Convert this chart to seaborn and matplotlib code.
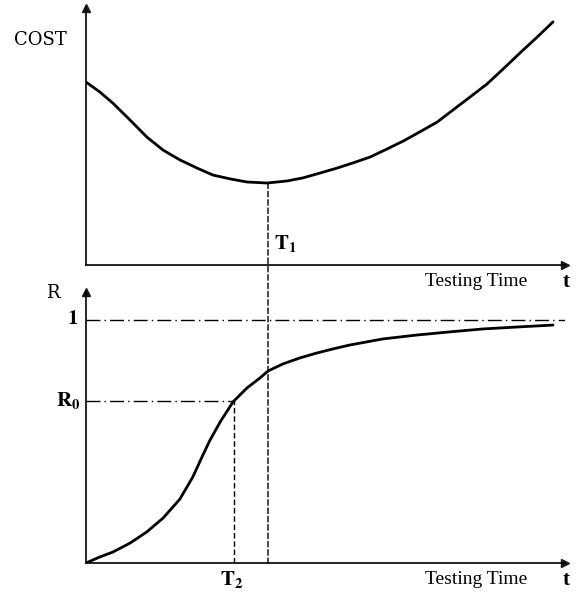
import numpy as np
import pandas as pd
import seaborn as sns
import matplotlib.pyplot as plt
from matplotlib.patches import ConnectionPatch

# cost curve (top panel)
cost_t = [0.0, 0.29, 0.56, 0.92, 1.27, 1.61, 1.96, 2.32, 2.65, 3.01, 3.36, 3.78, 4.20, 4.53,
          4.89, 5.24, 5.57, 5.93, 6.28, 6.62, 6.97, 7.33, 7.66, 8.02, 8.37, 8.71, 9.06, 9.42, 9.75]
cost_v = [7.12, 6.73, 6.30, 5.64, 4.98, 4.47, 4.09, 3.77, 3.50, 3.35, 3.23, 3.19, 3.27, 3.39,
          3.58, 3.77, 3.97, 4.20, 4.51, 4.82, 5.18, 5.56, 6.03, 6.54, 7.04, 7.63, 8.25, 8.87, 9.46]

# reliability curve (bottom panel)
rel_t = [0.0, 0.29, 0.56, 0.92, 1.27, 1.61, 1.96, 2.23, 2.44, 2.59, 2.80, 3.07, 3.36, 3.63,
         3.80, 4.11, 4.47, 4.82, 5.16, 5.51, 6.20, 6.91, 7.60, 8.29, 9.00, 9.75]
rel_v = [0.0, 0.025, 0.045, 0.082, 0.128, 0.185, 0.263, 0.354, 0.444, 0.506, 0.580, 0.663, 0.720, 0.761,
         0.790, 0.819, 0.844, 0.864, 0.881, 0.897, 0.922, 0.938, 0.951, 0.963, 0.971, 0.979]

T1 = 3.80
COST_MIN = 3.19
T2 = 3.09
R0 = 0.668
R_MAX = 1.0

sns.set_theme(style="white")
plt.rcParams['font.family'] = ['Liberation Serif', 'DejaVu Serif']
plt.rcParams['mathtext.fontset'] = 'stix'
plt.rcParams['text.color'] = 'black'

fig = plt.figure(figsize=(5.78, 5.92), dpi=100)
W, H = 578, 592
ax1 = fig.add_axes([86 / W, 1 - 265 / H, 479 / W, 257 / H])
ax2 = fig.add_axes([86 / W, 1 - 563 / H, 479 / W, 271 / H])

df_cost = pd.DataFrame({'t': cost_t, 'cost': cost_v})
df_rel = pd.DataFrame({'t': rel_t, 'R': rel_v})

sns.lineplot(data=df_cost, x='t', y='cost', ax=ax1, color='black', linewidth=2, sort=False)
sns.lineplot(data=df_rel, x='t', y='R', ax=ax2, color='black', linewidth=2, sort=False)

ax1.set_xlim(0, 10)
ax1.set_ylim(0, 10)
ax2.set_xlim(0, 10)
ax2.set_ylim(0, 1.115)

for ax in (ax1, ax2):
    ax.set_xlabel("")
    ax.set_ylabel("")
    ax.set_xticks([])
    ax.set_yticks([])
    ax.spines['top'].set_visible(False)
    ax.spines['right'].set_visible(False)
    for s in ('left', 'bottom'):
        ax.spines[s].set_color('black')
        ax.spines[s].set_linewidth(1.2)
    ax.patch.set_alpha(0)
    # arrow heads
    ax.plot(1, 0, '>k', transform=ax.transAxes, clip_on=False, markersize=6)
    ax.plot(0, 1, '^k', transform=ax.transAxes, clip_on=False, markersize=6)
    ax.annotate("Testing Time", xy=(0.921, 0), xycoords='axes fraction', xytext=(0, -17),
                textcoords='offset pixels', fontsize=14, ha='right', va='center')
    ax.annotate("t", xy=(1, 0), xycoords='axes fraction', xytext=(1, -17),
                textcoords='offset pixels', fontsize=15, fontweight='bold', ha='center', va='center')

# dashed lines
dash = (0, (4, 2))
dashdot = (0, (10, 3, 1, 3))
ax2.plot([0, 10], [R_MAX, R_MAX], color='black', lw=1, linestyle=dashdot)
ax2.plot([0, T2], [R0, R0], color='black', lw=1, linestyle=dashdot)
ax2.plot([T2, T2], [0, R0], color='black', lw=1, linestyle=dash)
con = ConnectionPatch(xyA=(T1, COST_MIN), coordsA=ax1.transData,
                      xyB=(T1, 0), coordsB=ax2.transData,
                      color='black', lw=1, linestyle=dash)
fig.add_artist(con)

# labels
fig.text(14 / W, 1 - 40 / H, "COST", fontsize=13, family='DejaVu Serif', va='center', ha='left')
fig.text(53 / W, 1 - 293 / H, "R", fontsize=13, family='DejaVu Serif', va='center', ha='center')
ax2.annotate(r"$\mathbf{1}$", xy=(0, R_MAX), xycoords=('axes fraction', 'data'),
             xytext=(-8, 0), textcoords='offset pixels', fontsize=15, ha='right', va='center')
ax2.annotate(r"$\mathbf{R_0}$", xy=(0, R0), xycoords=('axes fraction', 'data'),
             xytext=(-6, 0), textcoords='offset pixels', fontsize=15, ha='right', va='center')
ax1.annotate(r"$\mathbf{T_1}$", xy=(T1, 0), xytext=(6, 22), textcoords='offset pixels',
             fontsize=15, ha='left', va='center')
ax2.annotate(r"$\mathbf{T_2}$", xy=(T2, 0), xytext=(-2, -16), textcoords='offset pixels',
             fontsize=15, ha='center', va='center')

plt.savefig("out.png", dpi=100)
